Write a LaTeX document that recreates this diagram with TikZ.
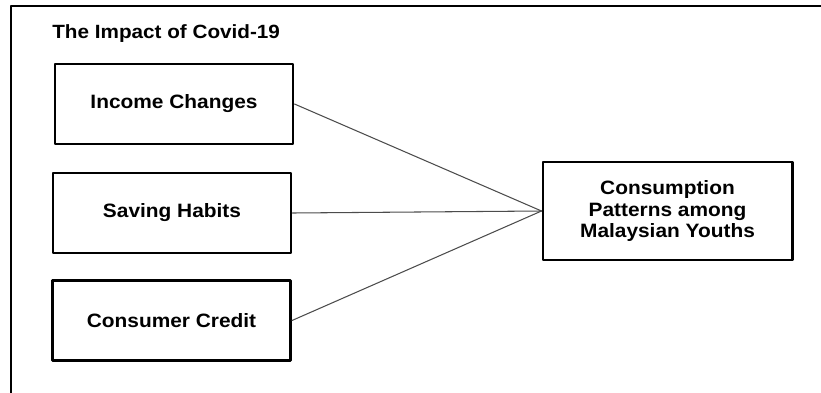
\documentclass[tikz,border=0pt]{standalone}
\usepackage{fontspec}
\setmainfont{Liberation Sans}[FakeStretch=1.08]
\tikzset{
	factor/.style={draw,line width=1.7pt,minimum width=4.76cm,minimum height=1.6cm,align=center,font=\bfseries\fontsize{11}{12.2}\selectfont},
	link/.style={draw=black!70,line width=0.6pt}
}
\begin{document}
\begin{tikzpicture}[line join=round,line cap=round]
				\useasboundingbox (0,0) rectangle (16.42,7.84);
				\draw[line width=1.1pt,line cap=butt] (0.22,-0.1)--(0.22,7.72)--(16.6,7.72);
				\path 
				(1.04,7.16) node[anchor=west,inner sep=0pt,font=\bfseries\fontsize{10.9}{11}\selectfont] (title) {The Impact of Covid-19}
				(3.48,5.76) node[factor] (income) {Income Changes}
				(3.44,3.58) node[factor] (saving) {Saving Habits}
				(3.43,1.43) node[factor] (credit) {Consumer Credit}
				(13.35,3.62) node[factor,minimum width=4.98cm,minimum height=1.96cm] (youth) {Consumption\\Patterns among\\Malaysian Youths}
				;
				\draw[link] (income.east)--(youth.west);
				\draw[link] (saving.east)--(youth.west);
				\draw[link] (credit.east)--(youth.west);
			\end{tikzpicture}
\end{document}
